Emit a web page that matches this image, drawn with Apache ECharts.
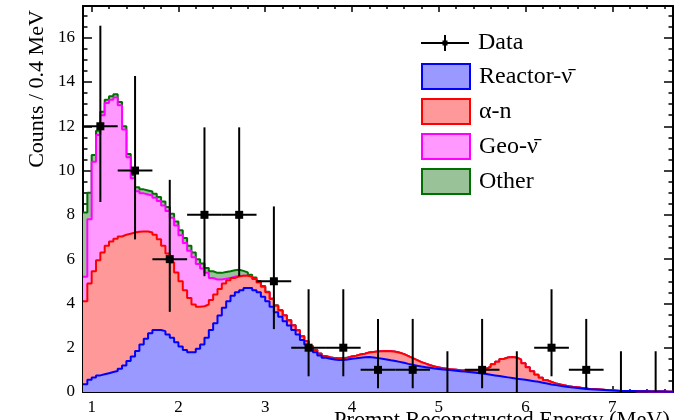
<!DOCTYPE html>
<html>
<head>
<meta charset="utf-8">
<script src="https://cdn.jsdelivr.net/npm/echarts@6/dist/echarts.min.js"></script>
<style>
  html, body { margin: 0; padding: 0; background: #ffffff; }
  #chart { width: 683px; height: 420px; }
</style>
</head>
<body>
<div id="chart"></div>
<script>
// Fit components, 0.05 MeV bins starting at 0.9 MeV (counts per 0.4 MeV)
const binStart = 0.9;
const binWidth = 0.05;

const reactor = [
  0.35, 0.55, 0.65, 0.75, 0.8, 0.85, 0.9, 0.95, 1.05, 1.2,
  1.4, 1.6, 1.85, 2.15, 2.4, 2.65, 2.8, 2.8, 2.75, 2.6,
  2.45, 2.25, 2.05, 1.9, 1.8, 1.8, 1.95, 2.15, 2.45, 2.8,
  3.1, 3.45, 3.8, 4.1, 4.35, 4.5, 4.6, 4.7, 4.7, 4.6,
  4.5, 4.3, 4.1, 3.85, 3.6, 3.4, 3.2, 3.0, 2.8, 2.6,
  2.35, 2.15, 1.95, 1.8, 1.65, 1.55, 1.5, 1.47, 1.45, 1.45,
  1.47, 1.5, 1.52, 1.55, 1.57, 1.58, 1.56, 1.53, 1.5, 1.47,
  1.43, 1.4, 1.36, 1.32, 1.27, 1.23, 1.19, 1.15, 1.12, 1.09,
  1.06, 1.04, 1.02, 1.0, 0.98, 0.96, 0.94, 0.92, 0.9, 0.88,
  0.86, 0.84, 0.81, 0.78, 0.75, 0.72, 0.69, 0.66, 0.63, 0.6,
  0.58, 0.55, 0.52, 0.49, 0.46, 0.42, 0.38, 0.34, 0.31, 0.28,
  0.25, 0.22, 0.2, 0.18, 0.16, 0.14, 0.12, 0.11, 0.1, 0.09,
  0.08, 0.07, 0.06, 0.05, 0.05, 0.04, 0.04, 0.03, 0.03, 0.03,
  0.02, 0.02, 0.02, 0.02, 0.01, 0.01
];

const alphaN = [
  3.75, 4.35, 4.8, 5.2, 5.5, 5.75, 5.9, 5.97, 5.97, 5.9,
  5.75, 5.6, 5.39, 5.1, 4.85, 4.55, 4.3, 4.1, 3.85, 3.65,
  3.4, 3.15, 2.95, 2.7, 2.45, 2.15, 1.9, 1.72, 1.5, 1.35,
  1.3, 1.2, 1.1, 0.95, 0.8, 0.72, 0.65, 0.55, 0.5, 0.5,
  0.45, 0.45, 0.4, 0.35, 0.3, 0.28, 0.25, 0.23, 0.2, 0.18,
  0.16, 0.14, 0.12, 0.1, 0.08, 0.07, 0.06, 0.06, 0.06, 0.07,
  0.08, 0.1, 0.12, 0.14, 0.16, 0.2, 0.25, 0.3, 0.34, 0.38,
  0.41, 0.42, 0.41, 0.39, 0.35, 0.3, 0.25, 0.2, 0.16, 0.12,
  0.09, 0.07, 0.05, 0.04, 0.04, 0.04, 0.04, 0.05, 0.06, 0.08,
  0.11, 0.16, 0.24, 0.36, 0.5, 0.65, 0.8, 0.9, 0.95, 0.95,
  0.88, 0.75, 0.6, 0.45, 0.32, 0.22, 0.15, 0.11, 0.08, 0.06,
  0.05, 0.04, 0.03, 0.03, 0.02, 0.02, 0.01, 0.01, 0.01, 0.01,
  0, 0, 0, 0, 0, 0, 0, 0, 0, 0,
  0, 0, 0, 0, 0, 0
];

const geo = [
  1.1, 2.9, 4.95, 5.65, 6.2, 6.45, 6.4, 6.38, 5.93, 4.75,
  3.45, 2.45, 1.83, 1.72, 1.67, 1.67, 1.67, 1.72, 1.82, 1.92,
  2.02, 2.12, 2.08, 2.13, 2.13, 2.13, 1.93, 1.71, 1.43, 1.0,
  0.68, 0.43, 0.22, 0.1, 0.05, 0.02, 0, 0, 0, 0,
  0, 0, 0, 0, 0, 0, 0, 0, 0, 0,
  0, 0, 0, 0, 0, 0, 0, 0, 0, 0,
  0, 0, 0, 0, 0, 0, 0, 0, 0, 0,
  0, 0, 0, 0, 0, 0, 0, 0, 0, 0,
  0, 0, 0, 0, 0, 0, 0, 0, 0, 0,
  0, 0, 0, 0, 0, 0, 0, 0, 0, 0,
  0, 0, 0, 0, 0, 0, 0, 0, 0, 0,
  0, 0, 0, 0, 0, 0, 0, 0, 0, 0,
  0, 0, 0, 0, 0, 0, 0, 0, 0, 0,
  0, 0, 0, 0, 0, 0
];

const other = [
  2.9, 1.2, 0.3, 0.2, 0.15, 0.15, 0.15, 0.15, 0.15, 0.15,
  0.15, 0.15, 0.18, 0.18, 0.18, 0.18, 0.18, 0.18, 0.18, 0.18,
  0.18, 0.18, 0.22, 0.22, 0.22, 0.22, 0.22, 0.22, 0.22, 0.3,
  0.3, 0.3, 0.3, 0.3, 0.3, 0.28, 0.22, 0.15, 0.1, 0.07,
  0.05, 0.04, 0.03, 0.02, 0.02, 0.02, 0.02, 0.02, 0.02, 0.02,
  0.02, 0.01, 0.01, 0.01, 0.01, 0.01, 0.01, 0.01, 0.01, 0.01,
  0.01, 0, 0, 0, 0, 0, 0, 0, 0, 0,
  0, 0, 0, 0, 0, 0, 0, 0, 0, 0,
  0, 0, 0, 0, 0, 0, 0, 0, 0, 0,
  0, 0, 0, 0, 0, 0, 0, 0, 0, 0,
  0, 0, 0, 0, 0, 0, 0, 0, 0, 0,
  0, 0, 0, 0, 0, 0, 0, 0, 0, 0,
  0, 0, 0, 0, 0, 0, 0, 0, 0, 0,
  0, 0, 0, 0, 0, 0
];

// Observed events in 0.4 MeV bins with 68% Poisson intervals
const dataEnergy = [1.1, 1.5, 1.9, 2.3, 2.7, 3.1, 3.5, 3.9, 4.3, 4.7, 5.1, 5.5, 5.9, 6.3, 6.7, 7.1, 7.5];
const dataCounts = [12, 10, 6, 8, 8, 5, 2, 2, 1, 1, 0, 1, 0, 2, 1, 0, 0];
const dataLow    = [8.58, 6.89, 3.62, 5.23, 5.23, 2.84, 0.71, 0.71, 0.17, 0.17, 0, 0.17, 0, 0.71, 0.17, 0, 0];
const dataHigh   = [16.54, 14.27, 9.58, 11.95, 11.95, 8.38, 4.64, 4.64, 3.30, 3.30, 1.84, 3.30, 1.84, 4.64, 3.30, 1.84, 1.84];
const dataHalfWidth = 0.2;

// Axis ranges and tick positions
const xMin = 0.9, xMax = 7.7;
const yMin = 0, yMax = 17.43;
const xMajorTicks = [1, 2, 3, 4, 5, 6, 7];
const xMinorTicks = [1.2, 1.4, 1.6, 1.8, 2.2, 2.4, 2.6, 2.8, 3.2, 3.4, 3.6, 3.8,
                     4.2, 4.4, 4.6, 4.8, 5.2, 5.4, 5.6, 5.8, 6.2, 6.4, 6.6, 6.8, 7.2, 7.4, 7.6];
const yMajorTicks = [0, 2, 4, 6, 8, 10, 12, 14, 16];
const yMinorTicks = [0.5, 1, 1.5, 2.5, 3, 3.5, 4.5, 5, 5.5, 6.5, 7, 7.5, 8.5, 9, 9.5,
                     10.5, 11, 11.5, 12.5, 13, 13.5, 14.5, 15, 15.5, 16.5, 17];

const FONT = 'Liberation Serif, Times New Roman, serif';

// Cumulative stack tops, drawn as step outlines over the bin edges
function stackTops(layers) {
  const n = layers[0].length;
  const tops = [];
  for (let i = 0; i < n; i++) {
    let s = 0;
    for (const l of layers) s += l[i];
    tops.push(s);
  }
  return tops;
}
function stepPoints(values) {
  const pts = values.map((v, i) => [binStart + i * binWidth, v]);
  pts.push([binStart + values.length * binWidth, values[values.length - 1]]);
  return pts;
}

const topReactor = stackTops([reactor]);
const topAlpha = stackTops([reactor, alphaN]);
const topGeo = stackTops([reactor, alphaN, geo]);
const topOther = stackTops([reactor, alphaN, geo, other]);

const NAME_REACTOR = 'Reactor-\u03BD\u0304';
const NAME_ALPHA = '\u03B1-n';
const NAME_GEO = 'Geo-\u03BD\u0304';
const NAME_OTHER = 'Other';

const styles = {
  reactor: { fill: '#9999ff', line: '#0000ff' },
  alpha:   { fill: '#ff9999', line: '#ff0000' },
  geo:     { fill: '#ff99ff', line: '#ff00ff' },
  other:   { fill: '#99c299', line: '#007000' }
};

function histSeries(name, tops, st, z) {
  return {
    name: name,
    type: 'line',
    step: 'end',
    data: stepPoints(tops),
    symbol: 'none',
    showSymbol: false,
    z: z,
    lineStyle: { color: st.line, width: 2 },
    itemStyle: { color: st.line },
    areaStyle: { color: st.fill, opacity: 1, origin: 'start' },
    emphasis: { disabled: true },
    silent: true
  };
}

const dataItems = dataEnergy.map((x, i) => [x, dataCounts[i], dataLow[i], dataHigh[i]]);

function tickAxis(pos, values, len, withLine, withLabel, labelValues) {
  const vertical = (pos === 'left' || pos === 'right');
  return {
    type: 'value',
    position: pos,
    min: vertical ? yMin : xMin,
    max: vertical ? yMax : xMax,
    axisLine: { show: withLine, onZero: false, lineStyle: { color: '#000', width: 2 } },
    axisTick: { show: true, inside: true, length: len, customValues: values,
                lineStyle: { color: '#000', width: 1.5 } },
    axisLabel: withLabel ? {
      show: true, customValues: labelValues, color: '#000',
      fontFamily: FONT, fontSize: 17,
      margin: vertical ? 8 : 7
    } : { show: false },
    splitLine: { show: false },
    minorTick: { show: false }
  };
}

const legendText = { fontFamily: FONT, fontSize: 24, lineHeight: 22, color: '#000', padding: [0, 0, 0, 4] };

const chart = echarts.init(document.getElementById('chart'), null, { renderer: 'canvas' });

chart.setOption({
  animation: false,
  backgroundColor: '#ffffff',
  grid: { left: 83, right: 10, top: 6, bottom: 28, containLabel: false },
  xAxis: [
    tickAxis('bottom', xMajorTicks, 6, true, true, xMajorTicks),
    tickAxis('top', xMajorTicks, 6, true, false),
    tickAxis('top', xMinorTicks, 3, false, false),
    tickAxis('bottom', xMinorTicks, 3, false, false)
  ],
  yAxis: [
    tickAxis('left', yMajorTicks, 9, true, true, yMajorTicks),
    tickAxis('right', yMajorTicks, 9, true, false),
    tickAxis('right', yMinorTicks, 4.5, false, false),
    tickAxis('left', yMinorTicks, 4.5, false, false)
  ],
  legend: [
    {
      data: [{
        name: 'Data',
        icon: 'path://M0 7h48v2H0z M23 0h2v16h-2z M21.5 5.5h5v5h-5z',
        itemStyle: { color: '#000' }
      }],
      left: 421, top: 31, padding: 0,
      itemWidth: 48, itemHeight: 16,
      selectedMode: false,
      textStyle: legendText
    },
    {
      data: [
        { name: NAME_REACTOR, icon: 'rect', itemStyle: { color: styles.reactor.fill, borderColor: styles.reactor.line, borderWidth: 2 } },
        { name: NAME_ALPHA, icon: 'rect', itemStyle: { color: styles.alpha.fill, borderColor: styles.alpha.line, borderWidth: 2 } },
        { name: NAME_GEO, icon: 'rect', itemStyle: { color: styles.geo.fill, borderColor: styles.geo.line, borderWidth: 2 } },
        { name: NAME_OTHER, icon: 'rect', itemStyle: { color: styles.other.fill, borderColor: styles.other.line, borderWidth: 2 } }
      ],
      orient: 'vertical',
      left: 421, top: 63, padding: 0,
      itemWidth: 48, itemHeight: 25, itemGap: 8,
      selectedMode: false,
      textStyle: legendText
    }
  ],
  graphic: [
    {
      type: 'text',
      x: 37, y: 89,
      rotation: Math.PI / 2,
      style: {
        text: 'Counts / 0.4 MeV',
        fontFamily: FONT, fontSize: 22, fill: '#000',
        align: 'center', verticalAlign: 'middle'
      }
    },
    {
      type: 'text',
      x: 670, y: 421,
      style: {
        text: 'Prompt Reconstructed Energy (MeV)',
        fontFamily: FONT, fontSize: 22.4, fill: '#000',
        align: 'right', verticalAlign: 'middle'
      }
    }
  ],
  series: [
    histSeries(NAME_OTHER, topOther, styles.other, 1),
    histSeries(NAME_GEO, topGeo, styles.geo, 2),
    histSeries(NAME_ALPHA, topAlpha, styles.alpha, 3),
    histSeries(NAME_REACTOR, topReactor, styles.reactor, 4),
    {
      name: 'Data',
      type: 'custom',
      z: 10,
      silent: true,
      itemStyle: { color: '#000' },
      encode: { x: 0, y: 1 },
      data: dataItems,
      renderItem: function (params, api) {
        const x = api.value(0), n = api.value(1), lo = api.value(2), hi = api.value(3);
        const pTop = api.coord([x, hi]);
        const pBot = api.coord([x, lo]);
        const children = [{
          type: 'line',
          shape: { x1: pTop[0], y1: pTop[1], x2: pBot[0], y2: pBot[1] },
          style: { stroke: '#000', lineWidth: 2 }
        }];
        if (n > 0) {
          const pL = api.coord([x - dataHalfWidth, n]);
          const pR = api.coord([x + dataHalfWidth, n]);
          const pC = api.coord([x, n]);
          children.push({
            type: 'line',
            shape: { x1: pL[0], y1: pL[1], x2: pR[0], y2: pR[1] },
            style: { stroke: '#000', lineWidth: 2 }
          });
          children.push({
            type: 'rect',
            shape: { x: pC[0] - 4, y: pC[1] - 4, width: 8, height: 8 },
            style: { fill: '#000' }
          });
        }
        return { type: 'group', children: children };
      }
    }
  ]
});
</script>
</body>
</html>
